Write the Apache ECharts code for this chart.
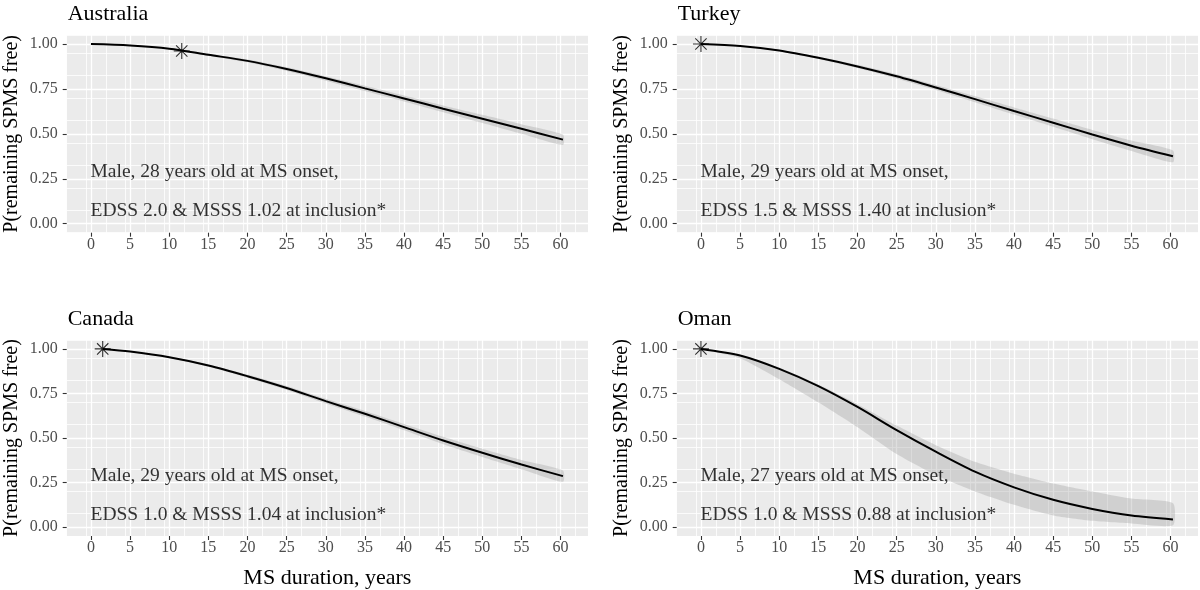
<!DOCTYPE html>
<html><head><meta charset="utf-8">
<script src="https://cdn.jsdelivr.net/npm/echarts@6/dist/echarts.min.js"></script>
<style>html,body{margin:0;padding:0;background:#fff}#c{width:1200px;height:590px}</style>
</head><body><div id="c"></div>
<script>
const panelNames = ['Australia', 'Turkey', 'Canada', 'Oman'];
const xTicks = [0, 5, 10, 15, 20, 25, 30, 35, 40, 45, 50, 55, 60];
const yTicks = [0, 0.25, 0.5, 0.75, 1];
const xTitle = 'MS duration, years';
const yTitle = 'P(remaining SPMS free)';

const ausX = [0, 5, 10, 15, 20, 25, 30, 35, 40, 45, 50, 55, 60.3];
const ausFit = [1.0, 0.992, 0.974, 0.94, 0.906, 0.861, 0.809, 0.753, 0.697, 0.64, 0.584, 0.528, 0.468];
const ausLow = [1.0, 0.99, 0.971, 0.935, 0.898, 0.85, 0.796, 0.738, 0.68, 0.62, 0.56, 0.5, 0.438];
const ausUp = [1.0, 0.994, 0.977, 0.945, 0.913, 0.87, 0.82, 0.767, 0.713, 0.658, 0.606, 0.554, 0.496];
const ausStar = [11.6, 0.961];
const ausNote = ['Male, 28 years old at MS onset,', 'EDSS 2.0 & MSSS 1.02 at inclusion*'];

const turX = [0, 5, 10, 15, 20, 25, 30, 35, 40, 45, 50, 55, 60.3];
const turFit = [1.0, 0.989, 0.964, 0.923, 0.875, 0.82, 0.758, 0.693, 0.627, 0.562, 0.496, 0.434, 0.375];
const turLow = [1.0, 0.987, 0.96, 0.917, 0.866, 0.808, 0.744, 0.676, 0.607, 0.539, 0.47, 0.405, 0.342];
const turUp = [1.0, 0.991, 0.968, 0.929, 0.884, 0.832, 0.772, 0.71, 0.647, 0.585, 0.522, 0.463, 0.408];
const turStar = [0, 1.0];
const turNote = ['Male, 29 years old at MS onset,', 'EDSS 1.5 & MSSS 1.40 at inclusion*'];

const canX = [1.5, 5, 10, 15, 20, 25, 30, 35, 40, 45, 50, 55, 60.3];
const canFit = [1.0, 0.985, 0.953, 0.907, 0.847, 0.781, 0.707, 0.636, 0.561, 0.486, 0.417, 0.351, 0.286];
const canLow = [1.0, 0.983, 0.949, 0.901, 0.838, 0.77, 0.694, 0.62, 0.543, 0.465, 0.394, 0.325, 0.254];
const canUp = [1.0, 0.987, 0.957, 0.913, 0.856, 0.792, 0.72, 0.652, 0.579, 0.507, 0.44, 0.377, 0.318];
const canStar = [1.5, 1.0];
const canNote = ['Male, 29 years old at MS onset,', 'EDSS 1.0 & MSSS 1.04 at inclusion*'];

const omaX = [0, 5, 10, 15, 20, 25, 30, 35, 40, 45, 50, 55, 60.3];
const omaFit = [1.0, 0.963, 0.888, 0.791, 0.674, 0.544, 0.423, 0.311, 0.223, 0.153, 0.102, 0.065, 0.043];
const omaLow = [1.0, 0.948, 0.83, 0.7, 0.56, 0.41, 0.292, 0.2, 0.125, 0.065, 0.035, 0.02, 0.01];
const omaUp = [1.0, 0.968, 0.895, 0.8, 0.69, 0.57, 0.46, 0.367, 0.3, 0.245, 0.2, 0.16, 0.134];
const omaStar = [0, 1.0];
const omaNote = ['Male, 27 years old at MS onset,', 'EDSS 1.0 & MSSS 0.88 at inclusion*'];

const noteY = [0.29, 0.07];

const panels = [
  {x: ausX, fit: ausFit, lo: ausLow, up: ausUp, star: ausStar, note: ausNote},
  {x: turX, fit: turFit, lo: turLow, up: turUp, star: turStar, note: turNote},
  {x: canX, fit: canFit, lo: canLow, up: canUp, star: canStar, note: canNote},
  {x: omaX, fit: omaFit, lo: omaLow, up: omaUp, star: omaStar, note: omaNote}
];

const FONT = '"Liberation Serif", "DejaVu Serif", serif';
const layout = [
  {left: 66.7, top: 35}, {left: 676.7, top: 35},
  {left: 66.7, top: 340}, {left: 676.7, top: 340}
];
const GW = 521.3, GH = 197.7;
const XMIN = -3.1, XMAX = 63.5, YMIN = -0.05, YMAX = 1.05;

const isMult = (v, s) => Math.abs(v / s - Math.round(v / s)) < 1e-6;

const grids = [], xAxes = [], yAxes = [], series = [], titles = [];
panels.forEach((p, i) => {
  grids.push({left: layout[i].left, top: layout[i].top, width: GW, height: GH, show: true,
    backgroundColor: '#EBEBEB', borderWidth: 0});
  titles.push({text: panelNames[i], left: layout[i].left + 1, top: layout[i].top - 32, padding: 0,
    textStyle: {fontFamily: FONT, fontSize: 22, fontWeight: 'normal', color: '#000'}});
  const bottom = i >= 2;
  xAxes.push({type: 'value', gridIndex: i, min: XMIN, max: XMAX, interval: 5, position: 'bottom',
    axisLine: {show: false, onZero: false},
    axisTick: {show: true, length: 4, lineStyle: {color: '#333', width: 1.1}, customValues: xTicks},
    axisLabel: {show: true, color: '#4D4D4D', fontFamily: FONT, fontSize: 16, margin: 4,
      customValues: xTicks,
      formatter: v => isMult(v, 5) ? String(Math.round(v)) : ''},
    splitLine: {show: true, lineStyle: {color: '#FFFFFF', width: 1.3}},
    name: bottom ? xTitle : '', nameLocation: 'middle', nameGap: 31,
    nameTextStyle: {fontFamily: FONT, fontSize: 22, color: '#000'}});
  xAxes.push({type: 'value', gridIndex: i, min: XMIN, max: XMAX, interval: 2.5, position: 'bottom',
    axisLine: {show: false, onZero: false}, axisTick: {show: false}, axisLabel: {show: false},
    splitLine: {show: true, lineStyle: {color: '#FFFFFF', width: 0.8}}});
  yAxes.push({type: 'value', gridIndex: i, min: YMIN, max: YMAX, interval: 0.25, position: 'left',
    axisLine: {show: false, onZero: false},
    axisTick: {show: true, length: 4, lineStyle: {color: '#333', width: 1.1}, customValues: yTicks},
    axisLabel: {show: true, color: '#4D4D4D', fontFamily: FONT, fontSize: 16, margin: 9,
      customValues: yTicks,
      formatter: v => isMult(v, 0.25) ? v.toFixed(2) : ''},
    splitLine: {show: true, lineStyle: {color: '#FFFFFF', width: 1.3}},
    name: yTitle, nameLocation: 'middle', nameGap: 45,
    nameTextStyle: {fontFamily: FONT, fontSize: 20, color: '#000'}});
  yAxes.push({type: 'value', gridIndex: i, min: YMIN, max: YMAX, interval: 0.125, position: 'left',
    axisLine: {show: false, onZero: false}, axisTick: {show: false}, axisLabel: {show: false},
    splitLine: {show: true, lineStyle: {color: '#FFFFFF', width: 0.8}}});

  const xi = 2 * i, yi = 2 * i;
  series.push({type: 'custom', xAxisIndex: xi, yAxisIndex: yi, data: [[0, 0]], silent: true, z: 2,
    renderItem: (params, api) => {
      const pts = [];
      for (let k = 0; k < p.x.length; k++) pts.push(api.coord([p.x[k], p.up[k]]));
      for (let k = p.x.length - 1; k >= 0; k--) pts.push(api.coord([p.x[k], p.lo[k]]));
      return {type: 'polygon', shape: {points: pts, smooth: 0.2}, style: {fill: 'rgba(153,153,153,0.32)'}};
    }});
  series.push({type: 'line', xAxisIndex: xi, yAxisIndex: yi, z: 3, silent: true,
    data: p.x.map((x, k) => [x, p.fit[k]]), smooth: 0.3, symbol: 'none',
    lineStyle: {color: '#000', width: 2}});
  series.push({type: 'scatter', xAxisIndex: xi, yAxisIndex: yi, z: 4, silent: true,
    data: [p.star], symbol: 'path://M0 -10L0 10M-10 0L10 0M-7.07 -7.07L7.07 7.07M-7.07 7.07L7.07 -7.07',
    symbolSize: 16, itemStyle: {color: 'rgba(0,0,0,0)', borderColor: '#000', borderWidth: 1.1}});
  series.push({type: 'scatter', xAxisIndex: xi, yAxisIndex: yi, z: 5, silent: true, symbolSize: 1,
    itemStyle: {color: 'rgba(0,0,0,0)'},
    data: p.note.map((t, k) => ({name: t, value: [0, noteY[k]]})),
    label: {show: true, position: 'right', distance: -1, formatter: '{b}', fontFamily: FONT,
      fontSize: 19.5, color: '#000'}});
});

const chart = echarts.init(document.getElementById('c'), null, {renderer: 'canvas'});
chart.setOption({animation: false, backgroundColor: '#FFFFFF', title: titles, grid: grids,
  xAxis: xAxes, yAxis: yAxes, series: series});
</script></body></html>
